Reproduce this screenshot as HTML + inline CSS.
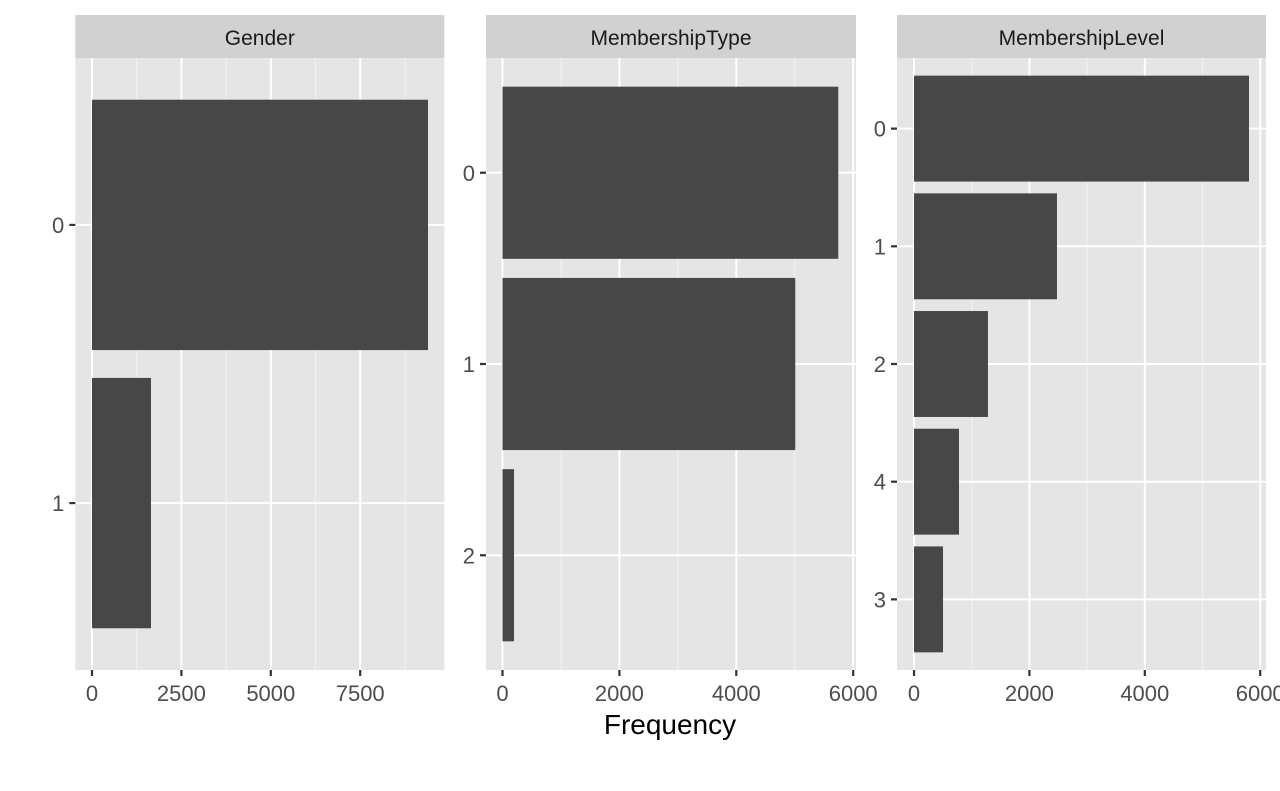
<!DOCTYPE html>
<html><head><meta charset="utf-8"><style>body{margin:0;background:#fff}svg{display:block}</style></head>
<body>
<svg id="chart" width="1280" height="791" xmlns="http://www.w3.org/2000/svg" font-family="Liberation Sans, Arial, sans-serif"></svg>
<script>
const genderCats = ["0","1"];
const genderVals = [9396, 1650];
const typeCats = ["0","1","2"];
const typeVals = [5745, 5009, 197];
const levelCats = ["0","1","2","4","3"];
const levelVals = [5806, 2478, 1282, 780, 503];
const genderTicks = [0, 2500, 5000, 7500];
const typeTicks = [0, 2000, 4000, 6000];
const levelTicks = [0, 2000, 4000, 6000];
const facetTitles = ["Gender","MembershipType","MembershipLevel"];

const NS="http://www.w3.org/2000/svg";
const svg=document.getElementById('chart');
function mk(tag,attrs,parent){const e=document.createElementNS(NS,tag);for(const k in attrs)e.setAttribute(k,attrs[k]);(parent||svg).appendChild(e);return e;}

const panels=[
 {cats:genderCats,vals:genderVals,ticks:genderTicks,left:75.3,right:444.3,x0:92,pxPer:89.4/2500},
 {cats:typeCats,vals:typeVals,ticks:typeTicks,left:486,right:856,x0:502.5,pxPer:116.9/2000},
 {cats:levelCats,vals:levelVals,ticks:levelTicks,left:897,right:1266,x0:914,pxPer:115.4/2000}
];
const plotTop=58, plotBottom=670;
panels.forEach((p,i)=>{
  const g=mk('g',{});
  
  
  const xs=v=>p.x0+v*p.pxPer;
  const n=p.cats.length;
  const step=(plotBottom-plotTop)/(n-1+1.2);
  const ys=k=>plotTop+step*(0.6+k);
  const bg=mk('rect',{x:p.left,y:plotTop,width:p.right-p.left,height:plotBottom-plotTop,fill:'#e5e5e5'},g);
  
  
  const d=p.ticks[1]-p.ticks[0];
  for(let t=0;t<p.ticks.length;t++){
    const mx=xs(p.ticks[t]+d/2);
    if(mx<p.right) mk('line',{x1:mx,x2:mx,y1:plotTop,y2:plotBottom,stroke:'#f2f2f2','stroke-width':1},g);
  }
  p.ticks.forEach(t=>{const x=xs(t);mk('line',{x1:x,x2:x,y1:plotTop,y2:plotBottom,stroke:'#fff','stroke-width':2},g);});
  p.cats.forEach((c,k)=>{const y=ys(k);mk('line',{x1:p.left,x2:p.right,y1:y,y2:y,stroke:'#fff','stroke-width':2},g);});
  p.vals.forEach((v,k)=>{
    const h=step*0.9;
    const b=mk('rect',{x:xs(0),y:ys(k)-h/2,width:xs(v)-xs(0),height:h,fill:'#474747'},g);
    
    
  });
  const s=mk('rect',{x:p.left,y:15,width:p.right-p.left,height:43,fill:'#d1d1d1'},g);
  
  
  const st=mk('text',{x:(p.left+p.right)/2,y:45,'text-anchor':'middle','font-size':'21',fill:'#1a1a1a'},g);
  st.textContent=facetTitles[i];
  
  
  p.ticks.forEach(t=>{const x=xs(t);
    mk('line',{x1:x,x2:x,y1:plotBottom,y2:plotBottom+6,stroke:'#333','stroke-width':2.2},g);
    const tl=mk('text',{x:x,y:plotBottom+31,'text-anchor':'middle','font-size':'22',fill:'#4d4d4d'},g);
    tl.textContent=t;
    
    
  });
  p.cats.forEach((c,k)=>{const y=ys(k);
    mk('line',{x1:p.left-6,x2:p.left,y1:y,y2:y,stroke:'#333','stroke-width':2.2},g);
    const tl=mk('text',{x:p.left-11,y:y+8,'text-anchor':'end','font-size':'22',fill:'#4d4d4d'},g);
    tl.textContent=c;
    
    
  });
});
const xt=mk('text',{x:670,y:734,'text-anchor':'middle','font-size':'28',fill:'#000'});
xt.textContent='Frequency';


</script>
</body></html>
